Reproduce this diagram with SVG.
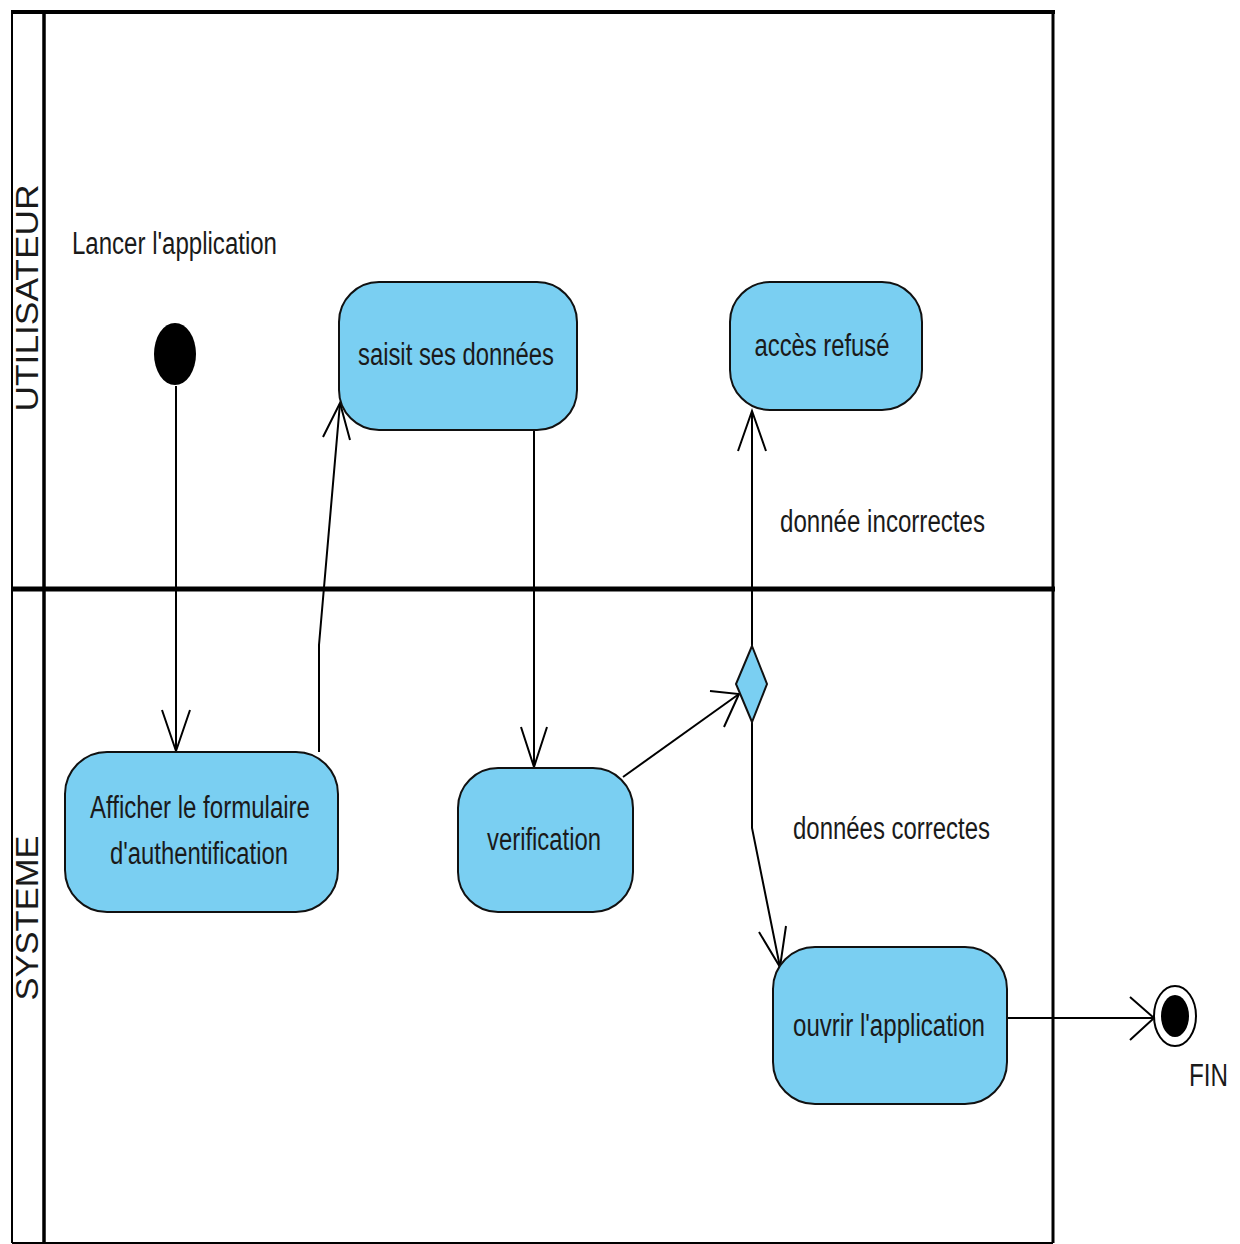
<svg xmlns="http://www.w3.org/2000/svg" width="1240" height="1244" viewBox="0 0 1240 1244">
<style>
.lane{fill:none;stroke:#000;}
.act{fill:#7ACFF2;stroke:#111;stroke-width:2;}
.t{font-family:"Liberation Sans",Arial,sans-serif;font-size:31px;fill:#1a1a1a;}
.c{text-anchor:middle;}
.edge{fill:none;stroke:#000;stroke-width:2;}
.head{fill:none;stroke:#000;stroke-width:2;stroke-linejoin:miter;}
</style>
<rect width="1240" height="1244" fill="#fff"/>
<g id="swimlanes">
  <line class="lane" x1="12" y1="11" x2="12" y2="1243" stroke-width="2"/>
  <line class="lane" x1="44" y1="11" x2="44" y2="1243" stroke-width="3.5"/>
  <line class="lane" x1="1053" y1="11" x2="1053" y2="1243" stroke-width="3"/>
  <line class="lane" x1="11" y1="12" x2="1055" y2="12" stroke-width="4"/>
  <line class="lane" x1="11" y1="589" x2="1055" y2="589" stroke-width="5"/>
  <line class="lane" x1="12" y1="1243" x2="1053" y2="1243" stroke="#999" stroke-width="2"/>
  <text class="t c" transform="translate(38,298) rotate(-90)" font-size="30" textLength="227" lengthAdjust="spacingAndGlyphs">UTILISATEUR</text>
  <text class="t c" transform="translate(38,918) rotate(-90)" font-size="30" textLength="165" lengthAdjust="spacingAndGlyphs">SYSTEME</text>
</g>
<g id="connectors">
  <line class="edge" x1="176" y1="386" x2="176" y2="751"/>
  <path class="head" d="M162,710 L176,751 L190,710"/>
  <polyline class="edge" points="319,752 319,645 340,403"/>
  <path class="head" d="M323,437 L340,403 L350,440"/>
  <line class="edge" x1="534" y1="430" x2="534" y2="767"/>
  <path class="head" d="M521,727 L534,767 L547,727"/>
  <line class="edge" x1="623" y1="777" x2="739" y2="694"/>
  <path class="head" d="M710,691 L739,694 L724,727"/>
  <line class="edge" x1="752" y1="646" x2="752" y2="411"/>
  <path class="head" d="M738,451 L752,411 L766,451"/>
  <polyline class="edge" points="752,722 752,828 780,967"/>
  <path class="head" d="M759,932 L780,967 L786,926"/>
  <line class="edge" x1="1007" y1="1018" x2="1154" y2="1018"/>
  <path class="head" d="M1130,997 L1154,1018 L1130,1040"/>
  <text class="t" x="72" y="254" textLength="205" lengthAdjust="spacingAndGlyphs">Lancer l'application</text>
  <text class="t" x="780" y="532" textLength="205" lengthAdjust="spacingAndGlyphs">donnée incorrectes</text>
  <text class="t" x="793" y="839" textLength="197" lengthAdjust="spacingAndGlyphs">données correctes</text>
</g>
<g id="start">
  <ellipse cx="175" cy="354" rx="21" ry="31" fill="#000"/>
</g>
<g id="saisit">
  <rect class="act" x="339" y="282" width="238" height="148" rx="40" ry="40"/>
  <text class="t c" x="456" y="365" textLength="196" lengthAdjust="spacingAndGlyphs">saisit ses données</text>
</g>
<g id="acces">
  <rect class="act" x="730" y="282" width="192" height="128" rx="40" ry="40"/>
  <text class="t c" x="822" y="356" textLength="135" lengthAdjust="spacingAndGlyphs">accès refusé</text>
</g>
<g id="afficher">
  <rect class="act" x="65" y="752" width="273" height="160" rx="42" ry="42"/>
  <text class="t c" x="200" y="818" textLength="220" lengthAdjust="spacingAndGlyphs">Afficher le formulaire</text>
  <text class="t c" x="199" y="864" textLength="178" lengthAdjust="spacingAndGlyphs">d'authentification</text>
</g>
<g id="verification">
  <rect class="act" x="458" y="768" width="175" height="144" rx="40" ry="40"/>
  <text class="t c" x="544" y="850" textLength="114" lengthAdjust="spacingAndGlyphs">verification</text>
</g>
<g id="decision">
  <polygon class="act" points="752,646 767,684 752,722 736,684"/>
</g>
<g id="ouvrir">
  <rect class="act" x="773" y="947" width="234" height="157" rx="42" ry="42"/>
  <text class="t c" x="889" y="1036" textLength="192" lengthAdjust="spacingAndGlyphs">ouvrir l'application</text>
</g>
<g id="fin">
  <ellipse cx="1175" cy="1016" rx="21" ry="30" fill="#fff" stroke="#000" stroke-width="2"/>
  <ellipse cx="1175" cy="1016" rx="14" ry="21" fill="#000"/>
  <text class="t" x="1189" y="1086" textLength="39" lengthAdjust="spacingAndGlyphs">FIN</text>
</g>
</svg>
